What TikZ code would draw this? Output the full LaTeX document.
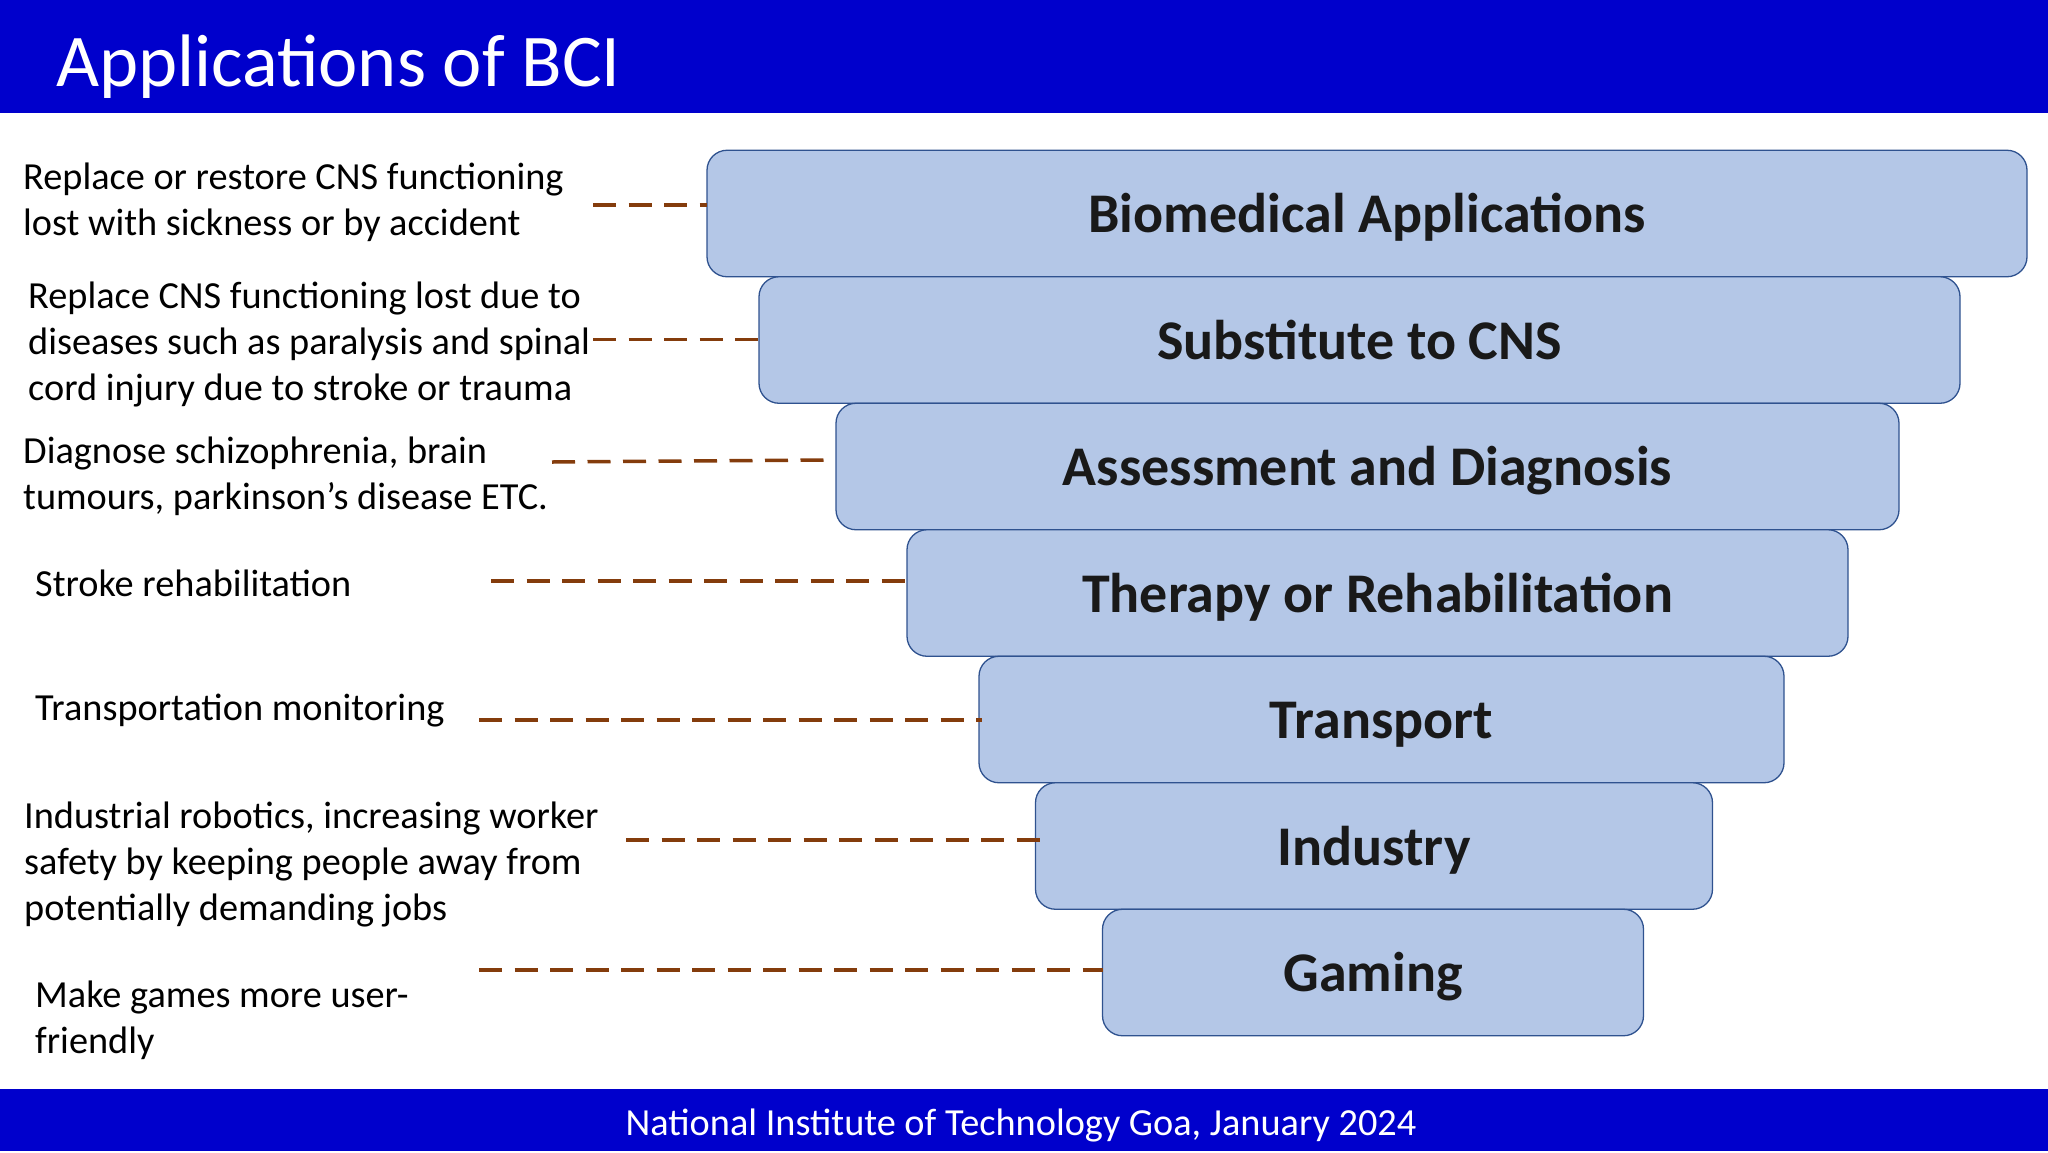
\documentclass[tikz,border=0pt]{standalone}
\usepackage{fontspec}
\setmainfont{Carlito}
\usetikzlibrary{positioning}
\definecolor{barblue}{HTML}{0000CC}
\definecolor{boxfill}{HTML}{B4C7E7}
\definecolor{boxline}{HTML}{2F528F}
\definecolor{dashbrown}{HTML}{843C0C}
\tikzset{
  banner/.style={fill=barblue, anchor=north west, inner sep=0pt, minimum width=2048pt},
  level/.style={draw=boxline, fill=boxfill, line width=1.3pt, rounded corners=20pt, minimum height=126.5pt, inner sep=0pt, outer sep=0pt,
    text height=44pt, text depth=6pt, font=\fontsize{56}{64}\selectfont\bfseries, text=black!90},
  desc/.style={align=left, inner sep=0pt, anchor=north west, font=\fontsize{38.3}{46}\selectfont},
  dashline/.style={draw=dashbrown, line width=3.5pt, dash pattern=on 23pt off 12.5pt},
}
\begin{document}
\begin{tikzpicture}[x=1pt,y=-1pt]
    \useasboundingbox (0,0) rectangle (2048,1152);
    \node [banner, minimum height=113pt](header) at (0,0){};
    \node [banner, minimum height=62pt](footer) at (0,1089){};
    \node [anchor=west, text=white, font=\fontsize{74.4}{82}\selectfont, inner sep=0pt](title) at (56,67){Applications of BCI};
    \node [text=white, font=\fontsize{38.3}{46}\selectfont, inner sep=0pt](credit) at (1021,1125){National Institute of Technology Goa, January 2024};

    \node [level, minimum width=1320pt](bio) at (1367,213.5){Biomedical Applications};
    \node [level, minimum width=1201pt, below=0pt of bio, xshift=-7.5pt](sub){Substitute to CNS};
    \node [level, minimum width=1063pt, below=0pt of sub, xshift=8pt](assess){Assessment and Diagnosis};
    \node [level, minimum width=941pt, below=0pt of assess, xshift=10pt](therapy){Therapy or Rehabilitation};
    \node [level, minimum width=805pt, below=0pt of therapy, xshift=4pt](transport){Transport};
    \node [level, minimum width=677pt, below=0pt of transport, xshift=-7.5pt](industry){Industry};
    \node [level, minimum width=541pt, below=0pt of industry, xshift=-1pt](gaming){Gaming};

    \node [desc](d_bio) at (23,163.2){Replace or restore CNS functioning\\lost with sickness or by accident};
    \node [desc, below=39.6pt of d_bio.south west, anchor=north west, xshift=5pt](d_sub){Replace CNS functioning lost due to\\diseases such as paralysis and spinal\\cord injury due to stroke or trauma};
    \node [desc, below=29.6pt of d_sub.south west, anchor=north west, xshift=-5pt](d_assess){Diagnose schizophrenia, brain\\tumours, parkinson’s disease ETC.};
    \node [desc, below=53.1pt of d_assess.south west, anchor=north west, xshift=12pt](d_therapy){Stroke rehabilitation};
    \node [desc, below=97pt of d_therapy.south west, anchor=north west](d_transport){Transportation monitoring};
    \node [desc, below=74.3pt of d_transport.south west, anchor=north west, xshift=-11pt](d_industry){Industrial robotics, increasing worker\\safety by keeping people away from\\potentially demanding jobs};
    \node [desc, below=53.5pt of d_industry.south west, anchor=north west, xshift=11pt](d_gaming){Make games more user-\\friendly};

    \coordinate (c_bio) at (593,205);
    \coordinate (c_sub) at (593,339.5);
    \coordinate (c_assess) at (552,462);
    \coordinate (c_assess_end) at (825,460);
    \coordinate (c_therapy) at (491,581);
    \coordinate (c_transport) at (479,720);
    \coordinate (c_transport_end) at (982,720);
    \coordinate (c_industry) at (626,840);
    \coordinate (c_industry_end) at (1040,840);
    \coordinate (c_gaming) at (479,970);

    \draw [dashline](c_bio) -- (c_bio -| bio.west);
    \draw [dashline](c_sub) -- (c_sub -| sub.west);
    \draw [dashline](c_assess) -- (c_assess_end);
    \draw [dashline](c_therapy) -- (c_therapy -| therapy.west);
    \draw [dashline](c_transport) -- (c_transport_end);
    \draw [dashline](c_industry) -- (c_industry_end);
    \draw [dashline](c_gaming) -- (c_gaming -| gaming.west);
\end{tikzpicture}
\end{document}
